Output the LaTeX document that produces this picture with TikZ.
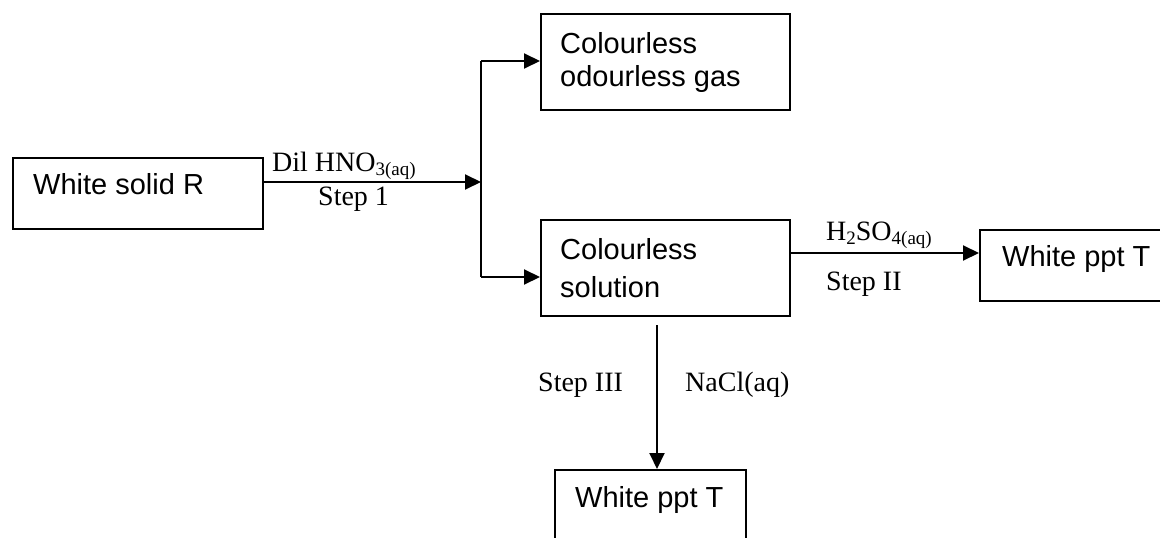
\documentclass[tikz,border=0pt]{standalone}
\usepackage{fontspec}
\setmainfont{Liberation Serif}
\newfontfamily\arialf{Liberation Sans}
\usetikzlibrary{arrows.meta}
\newcommand{\subsc}[1]{\raisebox{-4.5pt}{\fontsize{19}{19}\selectfont #1}}
\tikzset{
  box/.style={draw, line width=1.5pt, rectangle, inner sep=0pt, anchor=north west},
  boxtext/.style={anchor=base west, inner sep=0pt, font=\arialf\fontsize{29}{29}\selectfont},
  lbl/.style={anchor=base west, inner sep=0pt, font=\fontsize{28}{28}\selectfont},
  arr/.style={line width=2pt, -{Triangle[length=16pt,width=15pt]}},
  ln/.style={line width=2pt}
}
\begin{document}
\begin{tikzpicture}[x=1pt,y=-1pt]
\useasboundingbox (0,0) rectangle (1160,538);
\clip (0,0) rectangle (1160,538);
% boxes
\node[box, minimum width=250pt, minimum height=71pt] (R) at (12,157) {};
\node[box, minimum width=249pt, minimum height=96pt] (gas) at (540,13) {};
\node[box, minimum width=249pt, minimum height=96pt] (sol) at (540,219) {};
\node[box, minimum width=200pt, minimum height=71pt] (pptA) at (979,229) {};
\node[box, minimum width=191pt, minimum height=90pt] (pptB) at (554,469) {};
% box texts
\node[boxtext] (tR) at (33,194) {White solid R};
\node[boxtext] (tgas1) at (560,53) {Colourless};
\node[boxtext] (tgas2) at (560,86) {odourless gas};
\node[boxtext] (tsol1) at (560,259) {Colourless};
\node[boxtext] (tsol2) at (560,297) {solution};
\node[boxtext] (tpptA) at (1002,266) {White ppt T};
\node[boxtext] (tpptB) at (575,507) {White ppt T};
% connector coordinates
\coordinate (j) at (481,182);
\coordinate (jt) at (481,61);
\coordinate (jb) at (481,277);
\coordinate (s2) at (789,253);
\coordinate (s3) at (657,325);
% connectors
\draw[arr] (R.east |- j) -- (j);
\draw[ln] (jt) -- (jb);
\draw[arr] (jt) -- (jt -| gas.west);
\draw[arr] (jb) -- (jb -| sol.west);
\draw[arr] (s2) -- (s2 -| pptA.west);
\draw[arr] (s3) -- (s3 |- pptB.north);
% labels
\node[lbl] (l1) at (272,171) {Dil HNO\subsc{3(aq)}};
\node[lbl] (l2) at (318,205) {Step 1};
\node[lbl] (l3) at (826,240) {H\subsc{2}SO\subsc{4(aq)}};
\node[lbl] (l4) at (826,290) {Step II};
\node[lbl] (l5) at (538,391) {Step III};
\node[lbl] (l6) at (685,391) {NaCl(aq)};
\end{tikzpicture}
\end{document}
